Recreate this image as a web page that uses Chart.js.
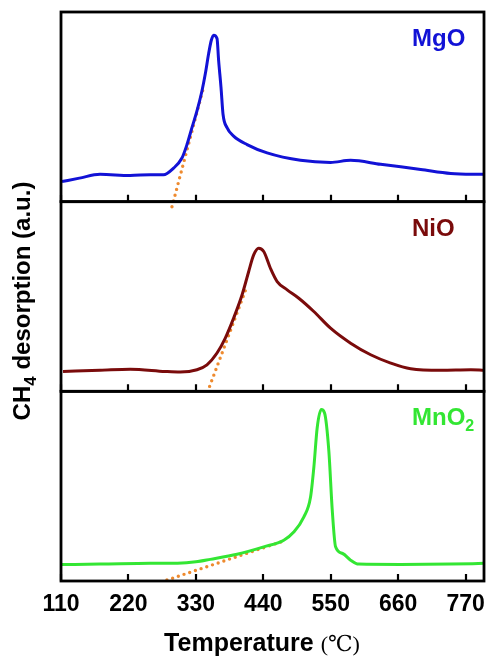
<!DOCTYPE html>
<html>
<head>
<meta charset="utf-8">
<script src="https://cdn.jsdelivr.net/npm/chart.js@4/dist/chart.umd.min.js"></script>
<style>
  html,body{margin:0;padding:0;background:#fff;}
  #wrap{width:488px;height:656px;}
</style>
</head>
<body>
<div id="wrap"><canvas id="tpd" width="488" height="656"></canvas></div>
<script>
// temperature ticks (°C)
const xTicks = [110, 220, 330, 440, 550, 660, 770];

// MgO
const mgoT = [111.6,140,173.7,222.8,255.5,277.2,293.6,307.3,315.5,323.6,331.8,340,345.4,350.8,355.2,359,364.5,367.1,371,374.3,380.8,391.6,413.5,446.2,500.6,549.7,582.4,631.4,696.8,745.8,799.8];
const mgoI = [10.6,12.4,14.4,13.8,14.2,14.2,17.7,23.0,30.1,39,47.9,58.5,67.4,78,85.1,87.8,86,74.5,60.3,46.1,39,34.6,30.1,25.7,21.8,20.7,21.8,19.7,17.0,14.9,14.4];
const mgoTanT = [291, 342.6];
const mgoTanI = [-2.7, 60.3];

// NiO
const nioT = [113.3,173.7,222.8,280,304.5,331.8,348.1,364.5,378,391.6,405.4,416.2,424.3,432.5,440.7,451.6,462.6,478.9,497.9,522.4,549.7,582.4,615.1,647.8,680.4,729.5,778.5,799.8];
const nioI = [10.5,11.1,11.7,10.5,10.2,11.4,14,20.2,28.1,38.6,50.9,63.2,71.9,75.4,73.7,64.9,57.9,53.5,49.1,42.1,33.3,25.4,19.3,14.9,11.9,11.1,11.4,11.1];
const nioTanT = [352.4, 411.9];
const nioTanI = [2.6, 54.1];

// MnO2
const mnoT = [111.6,173.7,255.5,300,330,353.5,397.2,440.7,473.4,489.7,506,517,522.4,527.9,534.5,539.9,546.9,552.5,557.9,569.3,582.4,595.5,664.1,745.8,799.8];
const mnoI = [8.7,8.9,9.3,9.4,10.1,11.4,14.1,18,21.5,25.8,33.7,44.1,59.8,80.8,90.4,88.6,68.6,37.2,18,14.5,11.0,8.9,8.7,8.9,9.3];
const mnoTanT = [282.8, 473.4];
const mnoTanI = [0.5, 21.1];

const names = ['MgO', 'NiO', 'MnO'];
const nameSubs = ['', '', '2'];
const colors = ['#1212d6', '#7a0b0b', '#33e633'];
const axes = ['yMg', 'yNi', 'yMn'];
const tanColor = '#ee8a2e';

const pts = (xs, ys) => xs.map((v, i) => ({x: v, y: ys[i]}));

function curve(xs, ys, i){
  return {data: pts(xs, ys), yAxisID: axes[i], borderColor: colors[i], borderWidth: 3,
          pointRadius: 0, cubicInterpolationMode: 'monotone', fill: false};
}
function tangent(xs, ys, i){
  return {data: pts(xs, ys), yAxisID: axes[i], borderColor: tanColor, borderWidth: 3.4,
          borderDash: [0, 6], borderCapStyle: 'round', pointRadius: 0, fill: false, clip: false};
}

const FONT = "'Liberation Sans', Arial, sans-serif";
const SERIF = "'Liberation Serif', 'DejaVu Serif', serif";

const decor = {
  id: 'decor',
  afterDraw(chart){
    const {ctx, chartArea: a, scales} = chart;
    const sx = scales.x;
    ctx.save();
    axes.forEach((id, i) => {
      const s = scales[id];
      // inward tick marks at the bottom of every panel
      ctx.beginPath();
      ctx.lineWidth = 2.2;
      ctx.strokeStyle = '#000';
      xTicks.forEach(v => {
        const px = Math.round(sx.getPixelForValue(v));
        ctx.moveTo(px, s.bottom);
        ctx.lineTo(px, s.bottom - 7);
      });
      ctx.stroke();
      // panel frame
      ctx.lineWidth = 2.8;
      ctx.strokeRect(a.left, s.top, a.right - a.left, s.bottom - s.top);
      // sample name
      ctx.fillStyle = colors[i];
      ctx.font = 'bold 24px ' + FONT;
      ctx.textBaseline = 'alphabetic';
      ctx.textAlign = 'left';
      const lx = 412, ly = s.top + 34;
      ctx.fillText(names[i], lx, ly);
      if (nameSubs[i]){
        const w = ctx.measureText(names[i]).width;
        ctx.font = 'bold 16px ' + FONT;
        ctx.fillText(nameSubs[i], lx + w, ly + 6);
      }
    });

    // x axis title
    ctx.fillStyle = '#000';
    ctx.textBaseline = 'alphabetic';
    ctx.textAlign = 'left';
    const t1 = 'Temperature ', t2 = '(℃)';
    ctx.font = 'bold 25px ' + FONT;
    const w1 = ctx.measureText(t1).width;
    ctx.font = '22px ' + SERIF;
    const w2 = ctx.measureText(t2).width;
    const tx = 262 - (w1 + w2) / 2;
    ctx.font = 'bold 25px ' + FONT;
    ctx.fillText(t1, tx, 651);
    ctx.font = '22px ' + SERIF;
    ctx.fillText(t2, tx + w1, 651);

    // y axis title, rotated
    ctx.save();
    ctx.translate(30, 301);
    ctx.rotate(-Math.PI / 2);
    const yParts = [['CH', 'bold 24px ' + FONT, 0], ['4', 'bold 17px ' + FONT, 6], [' desorption (a.u.)', 'bold 24px ' + FONT, 0]];
    let total = 0;
    yParts.forEach(p => { ctx.font = p[1]; total += ctx.measureText(p[0]).width; });
    let cx = -total / 2;
    yParts.forEach(p => {
      ctx.font = p[1];
      ctx.fillText(p[0], cx, p[2]);
      cx += ctx.measureText(p[0]).width;
    });
    ctx.restore();
    ctx.restore();
  }
};

const yScale = (w) => ({
  type: 'linear', position: 'left', stack: 'panels', stackWeight: 1, weight: w,
  min: 0, max: 100, display: false
});

new Chart(document.getElementById('tpd'), {
  type: 'line',
  data: {
    datasets: [
      curve(mgoT, mgoI, 0), tangent(mgoTanT, mgoTanI, 0),
      curve(nioT, nioI, 1), tangent(nioTanT, nioTanI, 1),
      curve(mnoT, mnoI, 2), tangent(mnoTanT, mnoTanI, 2)
    ]
  },
  options: {
    responsive: false,
    animation: false,
    layout: {padding: {left: 61, right: 4, top: 12, bottom: 0}},
    plugins: {legend: {display: false}, tooltip: {enabled: false}},
    scales: {
      x: {
        type: 'linear', min: 110, max: 800,
        grid: {display: false}, border: {display: false},
        afterBuildTicks: s => { s.ticks = xTicks.map(v => ({value: v})); },
        afterFit: s => { s.height = 75; },
        ticks: {color: '#000', padding: 2, maxRotation: 0, font: {family: FONT, size: 23, weight: 'bold'}}
      },
      yMg: yScale(3),
      yNi: yScale(2),
      yMn: yScale(1)
    }
  },
  plugins: [decor]
});
</script>
</body>
</html>
